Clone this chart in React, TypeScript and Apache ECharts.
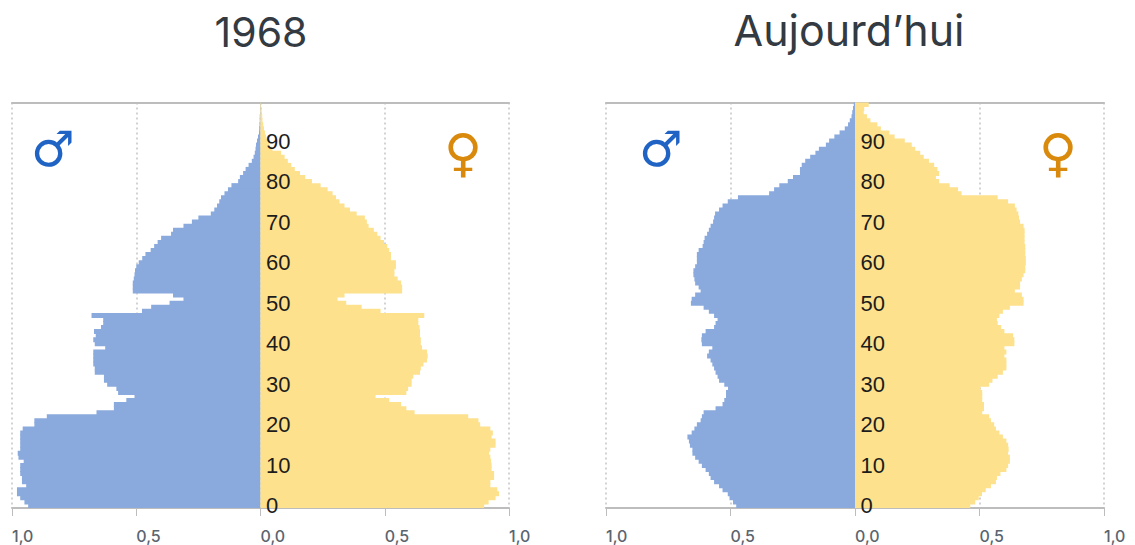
import React, { useEffect, useRef } from "react";
import * as echarts from "echarts";

const titleLeft = "1968";
const titleRight = "Aujourd’hui";
const ages = Array.from({ length: 100 }, (_, i) => String(i));
const labelledAges = ["0", "10", "20", "30", "40", "50", "60", "70", "80", "90"];

const men1968 = [
  .935,.95,.967,.98,.98,.943,.96,.96,.967,.967,
  .967,.953,.974,.977,.967,.967,.967,.967,.967,.957,
  .91,.91,.86,.66,.59,.59,.54,.507,.573,.58,
  .617,.63,.63,.667,.667,.673,.673,.673,.673,.625,
  .667,.673,.663,.67,.642,.633,.633,.68,.477,.44,
  .366,.31,.352,.514,.514,.514,.51,.507,.505,.50,
  .49,.476,.463,.442,.428,.414,.40,.36,.352,.31,
  .276,.25,.20,.186,.175,.166,.159,.145,.131,.117,
  .09,.083,.07,.06,.048,.035,.028,.023,.02,.018,
  .014,.01,.006,.005,.004,.003,.003,.002,.002,.002,
];
const women1968 = [
  .90,.918,.946,.96,.953,.925,.925,.94,.94,.93,
  .93,.928,.925,.92,.925,.946,.946,.93,.935,.925,
  .884,.877,.836,.62,.587,.566,.518,.463,.587,.594,
  .608,.608,.615,.642,.645,.656,.67,.673,.67,.65,
  .645,.645,.642,.642,.64,.635,.635,.659,.483,.407,
  .345,.31,.338,.57,.57,.566,.552,.539,.539,.545,
  .545,.525,.525,.518,.51,.497,.483,.47,.456,.435,
  .428,.42,.387,.36,.338,.318,.304,.29,.27,.242,
  .207,.18,.159,.138,.124,.11,.097,.083,.048,.035,
  .028,.022,.018,.014,.011,.008,.007,.005,.003,.002,
];
const menToday = [
  .477,.49,.504,.511,.532,.546,.566,.58,.587,.60,
  .615,.628,.642,.653,.653,.663,.667,.673,.656,.645,
  .635,.62,.615,.608,.56,.532,.525,.518,.518,.51,
  .525,.546,.552,.56,.566,.573,.58,.594,.587,.573,
  .615,.617,.615,.60,.566,.56,.552,.566,.587,.608,
  .659,.656,.642,.62,.628,.642,.645,.649,.649,.642,
  .635,.635,.635,.628,.612,.608,.604,.594,.587,.58,
  .57,.566,.562,.546,.532,.511,.47,.345,.325,.304,
  .27,.249,.221,.221,.214,.20,.18,.159,.145,.117,
  .104,.083,.062,.041,.028,.021,.014,.011,.008,.005,
];
const womenToday = [
  .463,.483,.497,.51,.525,.546,.566,.57,.584,.608,
  .615,.622,.622,.615,.617,.615,.608,.594,.58,.566,
  .559,.546,.539,.511,.518,.518,.511,.511,.511,.504,
  .539,.552,.573,.594,.608,.608,.608,.60,.608,.60,
  .64,.64,.635,.60,.587,.573,.57,.58,.594,.622,
  .677,.677,.67,.642,.663,.663,.67,.677,.684,.684,
  .686,.686,.684,.684,.684,.681,.681,.681,.681,.677,
  .663,.659,.656,.649,.642,.615,.573,.428,.414,.38,
  .338,.325,.338,.331,.318,.297,.276,.262,.242,.228,
  .20,.159,.138,.104,.09,.062,.048,.035,.037,.055,
];

const BLUE = "#8aaadd";
const YELLOW = "#fee18c";
const AXIS = "#bdbdbd";

const grids = [
  { left: 12, top: 102.5, width: 497, height: 405.5 },
  { left: 606, top: 102.5, width: 498, height: 405.5 },
];

function buildOption() {
  const xAxis: any[] = [];
  const yAxis: any[] = [];
  grids.forEach((_, g) => {
    xAxis.push({
      type: "value", gridIndex: g, min: -1, max: 1, interval: 0.5, position: "bottom",
      axisLine: { show: true, onZero: false, lineStyle: { color: AXIS, width: 2 } },
      axisTick: { show: true, length: 8, lineStyle: { color: AXIS, width: 1 } },
      splitLine: { show: true, lineStyle: { color: "#c4c4c4", type: [2, 3], width: 1.5 } },
      axisLabel: {
        show: true, margin: 21, align: "left", color: "#5a6570", fontSize: 16, fontWeight: 500,
        lineHeight: 14, fontFamily: "Inter", showMinLabel: true, showMaxLabel: true, hideOverlap: false,
        formatter: (v: number) => Math.abs(v).toFixed(1).replace(".", ","),
      },
    });
    xAxis.push({
      type: "value", gridIndex: g, min: -1, max: 1, interval: 0.5, position: "top",
      axisLine: { show: true, onZero: false, lineStyle: { color: AXIS, width: 2 } },
      axisTick: { show: false }, axisLabel: { show: false }, splitLine: { show: false },
    });
    yAxis.push({
      type: "category", gridIndex: g, data: ages,
      axisLine: { show: false }, axisTick: { show: false }, axisLabel: { show: false },
      splitLine: { show: false },
    });
  });
  const bars = (g: number, name: string, data: number[], color: string) => ({
    type: "bar", name, xAxisIndex: g * 2, yAxisIndex: g, stack: "pop" + g,
    data, barWidth: 5, silent: true,
    itemStyle: { color, borderWidth: 0 },
  });
  const ageLabels = (g: number) => ({
    type: "scatter", name: "Âge " + g, xAxisIndex: g * 2, yAxisIndex: g, silent: true,
    data: labelledAges.map((a) => [0, a]),
    symbolSize: 1, itemStyle: { color: "transparent", opacity: 1 }, z: 10,
    label: {
      show: true, position: "right", distance: 5, opacity: 1,
      formatter: (p: any) => p.value[1],
      color: "#1c1c1c", fontSize: 22, fontFamily: "Liberation Sans",
      textBorderWidth: 0,
    },
  });
  const neg = (a: number[]) => a.map((v) => -v);
  const sym = (left: number, top: number, text: string, fill: string, size: number) => ({
    type: "text", left, top, silent: true,
    style: { text, fill, fontSize: size, fontFamily: "DejaVu Sans" },
  });
  return {
    animation: false,
    backgroundColor: "#fff",
    title: [
      { text: titleLeft, left: 256, top: 6, textAlign: "center",
        textStyle: { fontFamily: "Inter", fontSize: 41, fontWeight: 400, color: "#333a42" } },
      { text: titleRight, left: 844, top: 3, textAlign: "center",
        textStyle: { fontFamily: "Inter", fontSize: 43, fontWeight: 400, color: "#333a42" } },
    ],
    grid: grids.map((g) => ({ ...g, containLabel: false })),
    xAxis, yAxis,
    series: [
      bars(0, "Hommes 1968", neg(men1968), BLUE),
      bars(0, "Femmes 1968", women1968, YELLOW),
      bars(1, "Hommes aujourd'hui", neg(menToday), BLUE),
      bars(1, "Femmes aujourd'hui", womenToday, YELLOW),
      ageLabels(0),
      ageLabels(1),
    ],
    graphic: [
      sym(31, 125, "♂", "#1f63c4", 49),
      sym(444, 127, "♀", "#d98a0c", 52),
      sym(639, 125, "♂", "#1f63c4", 49),
      sym(1039, 127, "♀", "#d98a0c", 52),
    ],
  };
}

export default function App() {
  const ref = useRef<HTMLDivElement>(null);
  useEffect(() => {
    const chart = echarts.init(ref.current!, undefined, { renderer: "svg" });
    chart.setOption(buildOption() as any);
    return () => chart.dispose();
  }, []);
  return <div ref={ref} style={{ position: "absolute", left: 0, top: 0, width: 1135, height: 545 }} />;
}
